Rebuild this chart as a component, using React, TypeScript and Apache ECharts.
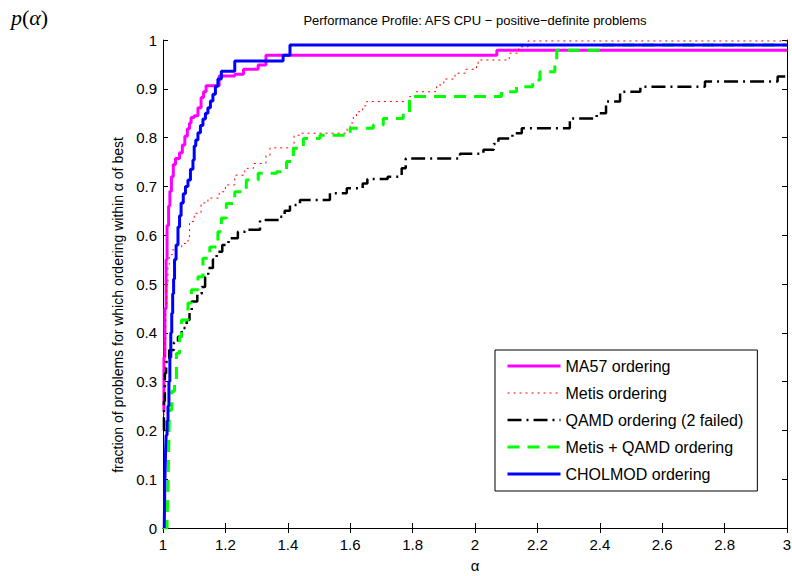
import React, { useEffect, useRef } from "react";
import * as echarts from "echarts";

// ---- data (alpha = step start, p = fraction from that alpha onward) ----
const ma57Alpha = [1, 1.003, 1.006, 1.01, 1.013, 1.018, 1.022, 1.027, 1.033, 1.04, 1.053, 1.062, 1.07, 1.078, 1.085, 1.09, 1.1, 1.112, 1.122, 1.13, 1.138, 1.18, 1.23, 1.258, 1.305, 1.33, 2.07, 3];
const ma57P = [0.24, 0.35, 0.45, 0.55, 0.62, 0.66, 0.69, 0.72, 0.745, 0.757, 0.769, 0.785, 0.803, 0.818, 0.83, 0.841, 0.845, 0.861, 0.882, 0.894, 0.906, 0.926, 0.93, 0.94, 0.949, 0.969, 0.979, 0.979];

const metisAlpha = [1, 1.003, 1.006, 1.009, 1.012, 1.016, 1.02, 1.03, 1.038, 1.06, 1.08, 1.085, 1.1, 1.122, 1.144, 1.18, 1.2, 1.23, 1.262, 1.29, 1.33, 1.343, 1.42, 1.44, 1.59, 1.6, 1.61, 1.62, 1.64, 1.653, 1.79, 1.81, 1.877, 1.9, 1.936, 1.97, 2.005, 2.01, 2.11, 2.14, 2.17, 3];
const metisP = [0.22, 0.3, 0.38, 0.45, 0.5, 0.54, 0.56, 0.57, 0.576, 0.583, 0.59, 0.628, 0.645, 0.666, 0.676, 0.689, 0.703, 0.723, 0.737, 0.747, 0.764, 0.779, 0.805, 0.809, 0.82, 0.83, 0.843, 0.853, 0.865, 0.874, 0.884, 0.894, 0.908, 0.92, 0.932, 0.94, 0.949, 0.959, 0.973, 0.986, 0.998, 0.998];

const qamdAlpha = [1, 1.003, 1.006, 1.01, 1.02, 1.035, 1.048, 1.06, 1.076, 1.085, 1.092, 1.11, 1.124, 1.135, 1.145, 1.16, 1.172, 1.19, 1.21, 1.24, 1.263, 1.311, 1.375, 1.39, 1.407, 1.439, 1.535, 1.589, 1.64, 1.655, 1.72, 1.765, 1.778, 1.952, 2.027, 2.06, 2.075, 2.12, 2.15, 2.304, 2.39, 2.42, 2.465, 2.53, 2.737, 2.97, 3];
const qamdP = [0.2, 0.26, 0.317, 0.34, 0.365, 0.38, 0.392, 0.41, 0.426, 0.445, 0.464, 0.48, 0.494, 0.515, 0.533, 0.55, 0.566, 0.58, 0.594, 0.607, 0.611, 0.631, 0.638, 0.65, 0.662, 0.672, 0.686, 0.696, 0.706, 0.715, 0.72, 0.737, 0.757, 0.767, 0.775, 0.787, 0.798, 0.809, 0.819, 0.839, 0.85, 0.874, 0.894, 0.904, 0.915, 0.925, 0.925];

const mqAlpha = [1, 1.013, 1.015, 1.017, 1.019, 1.021, 1.028, 1.037, 1.043, 1.053, 1.059, 1.08, 1.091, 1.112, 1.128, 1.15, 1.176, 1.187, 1.203, 1.23, 1.267, 1.305, 1.364, 1.396, 1.418, 1.45, 1.503, 1.6, 1.674, 1.706, 1.77, 1.79, 2.085, 2.133, 2.185, 2.208, 2.256, 2.262, 2.4, 3];
const mqP = [0, 0.02, 0.06, 0.115, 0.19, 0.242, 0.28, 0.303, 0.358, 0.392, 0.426, 0.461, 0.488, 0.515, 0.553, 0.576, 0.607, 0.635, 0.665, 0.689, 0.713, 0.727, 0.73, 0.751, 0.778, 0.798, 0.805, 0.819, 0.826, 0.839, 0.85, 0.884, 0.894, 0.904, 0.918, 0.935, 0.955, 0.979, 0.99, 0.99];

const cholAlpha = [1.004, 1.006, 1.008, 1.01, 1.013, 1.016, 1.019, 1.022, 1.025, 1.028, 1.031, 1.034, 1.037, 1.042, 1.048, 1.053, 1.058, 1.065, 1.072, 1.08, 1.088, 1.096, 1.1, 1.105, 1.112, 1.12, 1.128, 1.136, 1.144, 1.152, 1.16, 1.168, 1.176, 1.187, 1.23, 1.385, 1.407, 3];
const cholP = [0.0, 0.1, 0.15, 0.19, 0.22, 0.25, 0.3, 0.35, 0.4, 0.44, 0.48, 0.51, 0.55, 0.58, 0.617, 0.64, 0.666, 0.685, 0.7, 0.713, 0.735, 0.754, 0.783, 0.795, 0.81, 0.825, 0.838, 0.85, 0.861, 0.875, 0.889, 0.905, 0.92, 0.936, 0.957, 0.969, 0.99, 0.99];

const seriesNames = ["MA57 ordering", "Metis ordering", "QAMD ordering (2 failed)", "Metis + QAMD ordering", "CHOLMOD ordering"];
const titleText = "Performance Profile: AFS CPU \u2212 positive\u2212definite problems";
const yLabel = "fraction of problems for which ordering within \u03b1 of best";
const xLabel = "\u03b1";

const FONT = "'Liberation Sans', Arial, Helvetica, sans-serif";
const SERIF = "'Liberation Serif', 'DejaVu Serif', serif";

const seriesColors = ["#ff00ff", "#ff0000", "#000000", "#00ff00", "#0000ff"];
const seriesWidths = [3, 1, 2.5, 3, 3];
const seriesDash: any[] = ["solid", [2, 4], [14, 5, 2, 5], [12, 8], "solid"];

function pairs(a: number[], p: number[]) {
  return a.map((x, i) => [x, p[i]]);
}

export default function App() {
  const ref = useRef<HTMLDivElement>(null);
  useEffect(() => {
    if (!ref.current) return;
    const chart = echarts.init(ref.current, undefined, { renderer: "svg" });
    const axisCommon = {
      axisLine: { show: true, lineStyle: { color: "#000", width: 1 } },
      axisTick: { show: true, inside: true, length: 5, lineStyle: { color: "#000" } },
      splitLine: { show: false },
    };
    const allData = [
      pairs(ma57Alpha, ma57P),
      pairs(metisAlpha, metisP),
      pairs(qamdAlpha, qamdP),
      pairs(mqAlpha, mqP),
      pairs(cholAlpha, cholP),
    ];
    const series = seriesNames.map((name, i) => ({
      name,
      type: "line",
      step: "end",
      symbol: "none",
      data: allData[i],
      lineStyle: { color: seriesColors[i], width: seriesWidths[i], type: seriesDash[i], cap: "butt" },
      itemStyle: { color: seriesColors[i] },
      z: 3,
    }));
    chart.setOption({
      animation: false,
      backgroundColor: "#fff",
      title: {
        text: titleText,
        left: 470,
        top: 9,
        textAlign: "center",
        textStyle: { fontSize: 13, fontWeight: "normal", color: "#000", fontFamily: FONT },
      },
      grid: { left: 163, right: 5, top: 40, bottom: 48, outerBoundsMode: "none" },
      xAxis: [
        {
          type: "value", min: 1, max: 3, interval: 0.2, position: "bottom",
          ...axisCommon,
          axisLabel: { fontSize: 15, color: "#000", fontFamily: FONT, margin: 9 },
          name: xLabel, nameLocation: "middle", nameGap: 30,
          nameTextStyle: { fontSize: 15, color: "#000", fontFamily: FONT },
        },
        {
          type: "value", min: 1, max: 3, interval: 0.2, position: "top",
          ...axisCommon, axisLabel: { show: false },
        },
      ],
      yAxis: [
        {
          type: "value", min: 0, max: 1, interval: 0.1, position: "left",
          ...axisCommon,
          axisLabel: { fontSize: 15, color: "#000", fontFamily: FONT, margin: 6 },
          name: yLabel, nameLocation: "middle", nameGap: 38,
          nameTextStyle: { fontSize: 14, color: "#000", fontFamily: FONT, padding: [0, 42, 0, 0] },
        },
        {
          type: "value", min: 0, max: 1, interval: 0.1, position: "right",
          ...axisCommon, axisLabel: { show: false },
        },
      ],
      legend: {
        orient: "vertical",
        left: 495,
        top: 350,
        itemWidth: 53,
        itemHeight: 14,
        itemGap: 11,
        padding: [8, 14, 9, 11],
        borderColor: "#000",
        borderWidth: 1,
        backgroundColor: "#fff",
        itemStyle: { color: "rgba(0,0,0,0)", borderWidth: 0, opacity: 0 },
        textStyle: { fontSize: 16, color: "#000", fontFamily: FONT },
        data: seriesNames.map((name, i) => ({
          name,
          lineStyle: { width: seriesWidths[i], color: seriesColors[i], type: seriesDash[i] },
        })),
      },
      graphic: [
        {
          type: "text",
          left: 11,
          top: 6,
          style: {
            text: "{i|p}{u|(}{i|\u03b1}{u|)}",
            fill: "#000",
            rich: {
              i: { fontStyle: "italic", fontSize: 22, fontFamily: SERIF, fill: "#000" },
              u: { fontStyle: "normal", fontSize: 22, fontFamily: SERIF, fill: "#000" },
            },
          },
        },
      ],
      series,
    });
    return () => chart.dispose();
  }, []);
  return <div ref={ref} style={{ position: "fixed", left: 0, top: 0, width: 792, height: 576 }} />;
}
